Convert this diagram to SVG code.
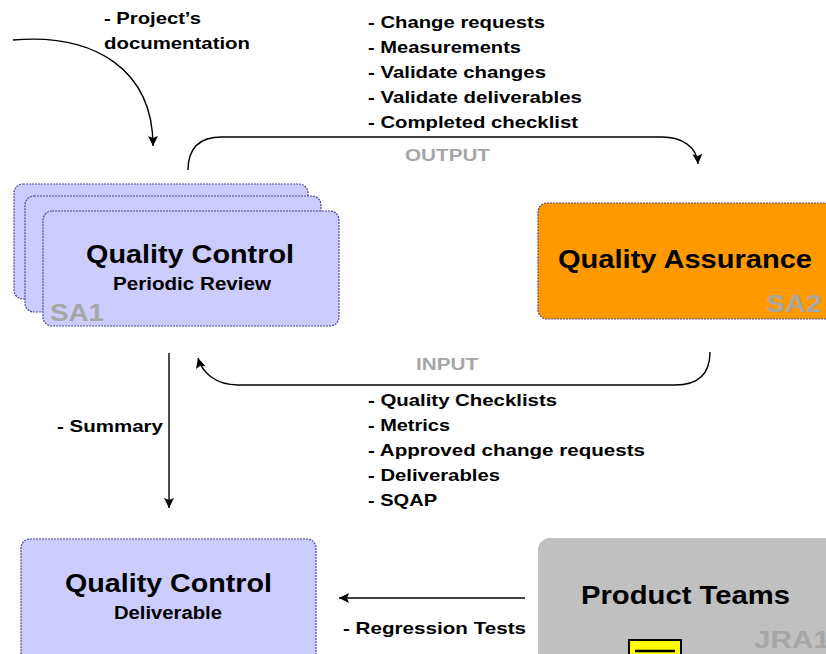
<svg xmlns="http://www.w3.org/2000/svg" width="826" height="654" viewBox="0 0 826 654">
<style>
text{font-family:"Liberation Sans",Arial,sans-serif;font-weight:bold;fill:#000}
.big{font-size:25px}
.sub{font-size:18px}
.lbl{font-size:17px}
.tag{font-size:23px;fill:#a6a6a6}
.io{font-size:16px;fill:#a6a6a6}
.qc{fill:#ccccff;stroke:#4a4a96;stroke-width:1.2;stroke-dasharray:2 1}
.qa{fill:#ff9900;stroke:#4a4a96;stroke-width:1.2;stroke-dasharray:2 1}
.pt{fill:#c0c0c0}
.arr{fill:none;stroke:#000;stroke-width:1.4;marker-end:url(#ah)}
</style>
<defs>
<marker id="ah" viewBox="0 0 10 10" refX="10" refY="5" markerWidth="11" markerHeight="10" markerUnits="userSpaceOnUse" orient="auto">
<path d="M0,0 L10,5 L0,10 L2,5 z" fill="#000"/>
</marker>
</defs>
<rect width="826" height="654" fill="#fff"/>

<g id="connectors">
<path class="arr" d="M13,40 C95,33 153,70 153,146"/>
<path class="arr" d="M188,170 C188,150 198,137 222,137 L662,137 C682,137 697,147 698,164"/>
<path class="arr" d="M710,352 C710,372 700,385 675,385 L238,385 C215,385 202,372 198,358"/>
<path class="arr" d="M169,353 L169,508"/>
<path class="arr" d="M525,598 L339,598"/>
</g>

<g id="sa1">
<rect class="qc" x="14" y="184" width="294" height="115" rx="9"/>
<rect class="qc" x="25" y="196" width="296" height="116" rx="9"/>
<rect class="qc" x="43" y="211" width="296" height="115" rx="9"/>
<text class="big" x="86" y="263" textLength="208" lengthAdjust="spacingAndGlyphs">Quality Control</text>
<text class="sub" x="113" y="290" textLength="158" lengthAdjust="spacingAndGlyphs">Periodic Review</text>
<text class="tag" x="50" y="321" textLength="54" lengthAdjust="spacingAndGlyphs">SA1</text>
</g>

<g id="sa2">
<rect class="qa" x="538" y="203" width="300" height="116" rx="9"/>
<text class="big" x="558" y="268" textLength="254" lengthAdjust="spacingAndGlyphs">Quality Assurance</text>
<text class="tag" x="766" y="312" textLength="56" lengthAdjust="spacingAndGlyphs">SA2</text>
</g>

<g id="qcd">
<rect class="qc" x="21" y="539" width="295" height="130" rx="9"/>
<text class="big" x="65" y="592" textLength="207" lengthAdjust="spacingAndGlyphs">Quality Control</text>
<text class="sub" x="114" y="619" textLength="108" lengthAdjust="spacingAndGlyphs">Deliverable</text>
</g>

<g id="jra1">
<rect class="pt" x="538" y="538" width="300" height="130" rx="12"/>
<text class="big" x="581" y="604" textLength="209" lengthAdjust="spacingAndGlyphs">Product Teams</text>
<text class="tag" x="754" y="648" textLength="76" lengthAdjust="spacingAndGlyphs">JRA1</text>
<rect x="629" y="640" width="52" height="20" fill="#ffff00" stroke="#000" stroke-width="2"/>
<line x1="635" y1="651" x2="675" y2="651" stroke="#000" stroke-width="2.5"/>
</g>

<g id="labels">
<text class="lbl" x="104" y="24" textLength="97" lengthAdjust="spacingAndGlyphs">- Project’s</text>
<text class="lbl" x="104" y="49" textLength="146" lengthAdjust="spacingAndGlyphs">documentation</text>
<text class="lbl" x="368" y="28" textLength="177" lengthAdjust="spacingAndGlyphs">- Change requests</text>
<text class="lbl" x="368" y="53" textLength="153" lengthAdjust="spacingAndGlyphs">- Measurements</text>
<text class="lbl" x="368" y="78" textLength="178" lengthAdjust="spacingAndGlyphs">- Validate changes</text>
<text class="lbl" x="368" y="103" textLength="214" lengthAdjust="spacingAndGlyphs">- Validate deliverables</text>
<text class="lbl" x="368" y="128" textLength="210" lengthAdjust="spacingAndGlyphs">- Completed checklist</text>
<text class="io" x="405" y="161" textLength="85" lengthAdjust="spacingAndGlyphs">OUTPUT</text>
<text class="io" x="416" y="370" textLength="62" lengthAdjust="spacingAndGlyphs">INPUT</text>
<text class="lbl" x="368" y="406" textLength="189" lengthAdjust="spacingAndGlyphs">- Quality Checklists</text>
<text class="lbl" x="368" y="431" textLength="82" lengthAdjust="spacingAndGlyphs">- Metrics</text>
<text class="lbl" x="368" y="456" textLength="277" lengthAdjust="spacingAndGlyphs">- Approved change requests</text>
<text class="lbl" x="368" y="481" textLength="132" lengthAdjust="spacingAndGlyphs">- Deliverables</text>
<text class="lbl" x="368" y="506" textLength="69" lengthAdjust="spacingAndGlyphs">- SQAP</text>
<text class="lbl" x="57" y="432" textLength="106" lengthAdjust="spacingAndGlyphs">- Summary</text>
<text class="lbl" x="343" y="634" textLength="183" lengthAdjust="spacingAndGlyphs">- Regression Tests</text>
</g>
</svg>
